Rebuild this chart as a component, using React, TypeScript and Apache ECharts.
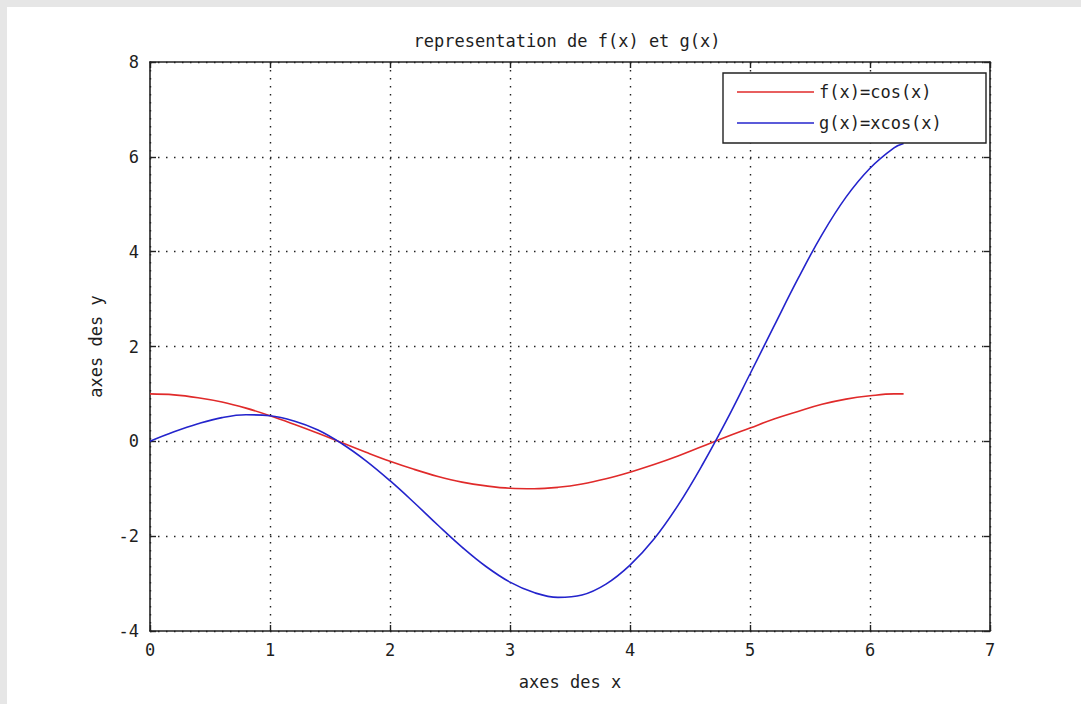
import React, { useEffect, useRef } from "react";
import * as echarts from "echarts";

const titleText = "representation de f(x) et g(x)";
const xAxisName = "axes des x";
const yAxisName = "axes des y";
const seriesNames = ["f(x)=cos(x)", "g(x)=xcos(x)"];

const xValues = [0, 0.2, 0.4, 0.6, 0.8, 1.0, 1.2, 1.4, 1.6, 1.8, 2.0, 2.2, 2.4, 2.6, 2.8, 3.0, 3.2, 3.4, 3.6, 3.8, 4.0, 4.2, 4.4, 4.6, 4.8, 5.0, 5.2, 5.4, 5.6, 5.8, 6.0, 6.2, 6.28];
const fValues = [1.0, 0.98, 0.92, 0.83, 0.7, 0.54, 0.36, 0.17, -0.03, -0.23, -0.42, -0.59, -0.74, -0.86, -0.94, -0.99, -1.0, -0.97, -0.9, -0.79, -0.65, -0.49, -0.31, -0.11, 0.09, 0.28, 0.47, 0.63, 0.78, 0.89, 0.96, 1.0, 1.0];
const gValues = [0, 0.2, 0.37, 0.5, 0.56, 0.54, 0.43, 0.24, -0.05, -0.41, -0.83, -1.29, -1.77, -2.23, -2.64, -2.97, -3.19, -3.29, -3.24, -3.01, -2.61, -2.06, -1.35, -0.51, 0.42, 1.42, 2.43, 3.43, 4.36, 5.15, 5.76, 6.19, 6.28];

const xMin = 0, xMax = 7, xStep = 1;
const yMin = -4, yMax = 8, yStep = 2;

const FONT = "DejaVu Sans Mono";
const FS = 17;
const TXT = "#1e1e1e";

export default function App() {
  const ref = useRef<HTMLDivElement>(null);
  useEffect(() => {
    if (!ref.current) return;
    const chart = echarts.init(ref.current, null, { renderer: "svg" });
    const fData = xValues.map((x, i) => [x, fValues[i]]);
    const gData = xValues.map((x, i) => [x, gValues[i]]);
    const gridLine = { show: true, lineStyle: { color: "#222", width: 1.4, type: [1.5, 6.5] } };
    const axisLine = { show: true, onZero: false, lineStyle: { color: "#222", width: 1.6 } };
    const tick = { show: true, inside: true, length: 6, lineStyle: { color: "#222", width: 1.4 } };
    chart.setOption({
      animation: false,
      backgroundColor: "#e6e6e6",
      graphic: [
        { type: "rect", z: -10, shape: { x: 7, y: 7, width: 1090, height: 710 }, style: { fill: "#ffffff" } },
        { type: "text", x: 567, y: 41, style: { text: titleText, align: "center", verticalAlign: "middle", fontFamily: FONT, fontSize: FS, fill: TXT } },
      ],
      grid: { left: 150, top: 62, right: 91, bottom: 73, containLabel: false, show: true, backgroundColor: "#fff", borderWidth: 0 },
      legend: {
        orient: "vertical",
        left: 723,
        top: 73,
        data: seriesNames,
        icon: "rect",
        backgroundColor: "#fff",
        borderColor: "#222",
        borderWidth: 1.4,
        padding: [10, 12, 11, 14],
        itemWidth: 77,
        itemHeight: 1.6,
        itemGap: 13,
        textStyle: { fontFamily: FONT, fontSize: FS, color: TXT, lineHeight: 18, width: 155, overflow: "truncate" },
      },
      xAxis: [
        {
          type: "value", min: xMin, max: xMax, interval: xStep, position: "bottom",
          name: xAxisName, nameLocation: "middle", nameGap: 42,
          nameTextStyle: { fontFamily: FONT, fontSize: FS, color: TXT },
          axisLine, axisTick: tick, splitLine: gridLine,
          axisLabel: { fontFamily: FONT, fontSize: FS, color: TXT, margin: 10 },
        },
        {
          type: "value", min: xMin, max: xMax, interval: xStep, position: "top",
          axisLine, axisTick: tick, splitLine: { show: false }, axisLabel: { show: false },
        },
      ],
      yAxis: [
        {
          type: "value", min: yMin, max: yMax, interval: yStep, position: "left",
          name: yAxisName, nameLocation: "middle", nameGap: 46,
          nameTextStyle: { fontFamily: FONT, fontSize: FS, color: TXT },
          axisLine, axisTick: tick, splitLine: gridLine,
          axisLabel: { fontFamily: FONT, fontSize: FS, color: TXT, margin: 11 },
        },
        {
          type: "value", min: yMin, max: yMax, interval: yStep, position: "right",
          axisLine, axisTick: tick, splitLine: { show: false }, axisLabel: { show: false },
        },
      ],
      series: [
        { name: seriesNames[0], type: "line", data: fData, symbol: "none", smooth: 0.4, lineStyle: { color: "#e02a2a", width: 1.6 }, itemStyle: { color: "#e02a2a" } },
        { name: seriesNames[1], type: "line", data: gData, symbol: "none", smooth: 0.4, lineStyle: { color: "#2424cc", width: 1.6 }, itemStyle: { color: "#2424cc" } },
      ],
    });
    return () => chart.dispose();
  }, []);
  return <div ref={ref} style={{ position: "fixed", left: 0, top: 0, width: 1081, height: 704 }} />;
}
